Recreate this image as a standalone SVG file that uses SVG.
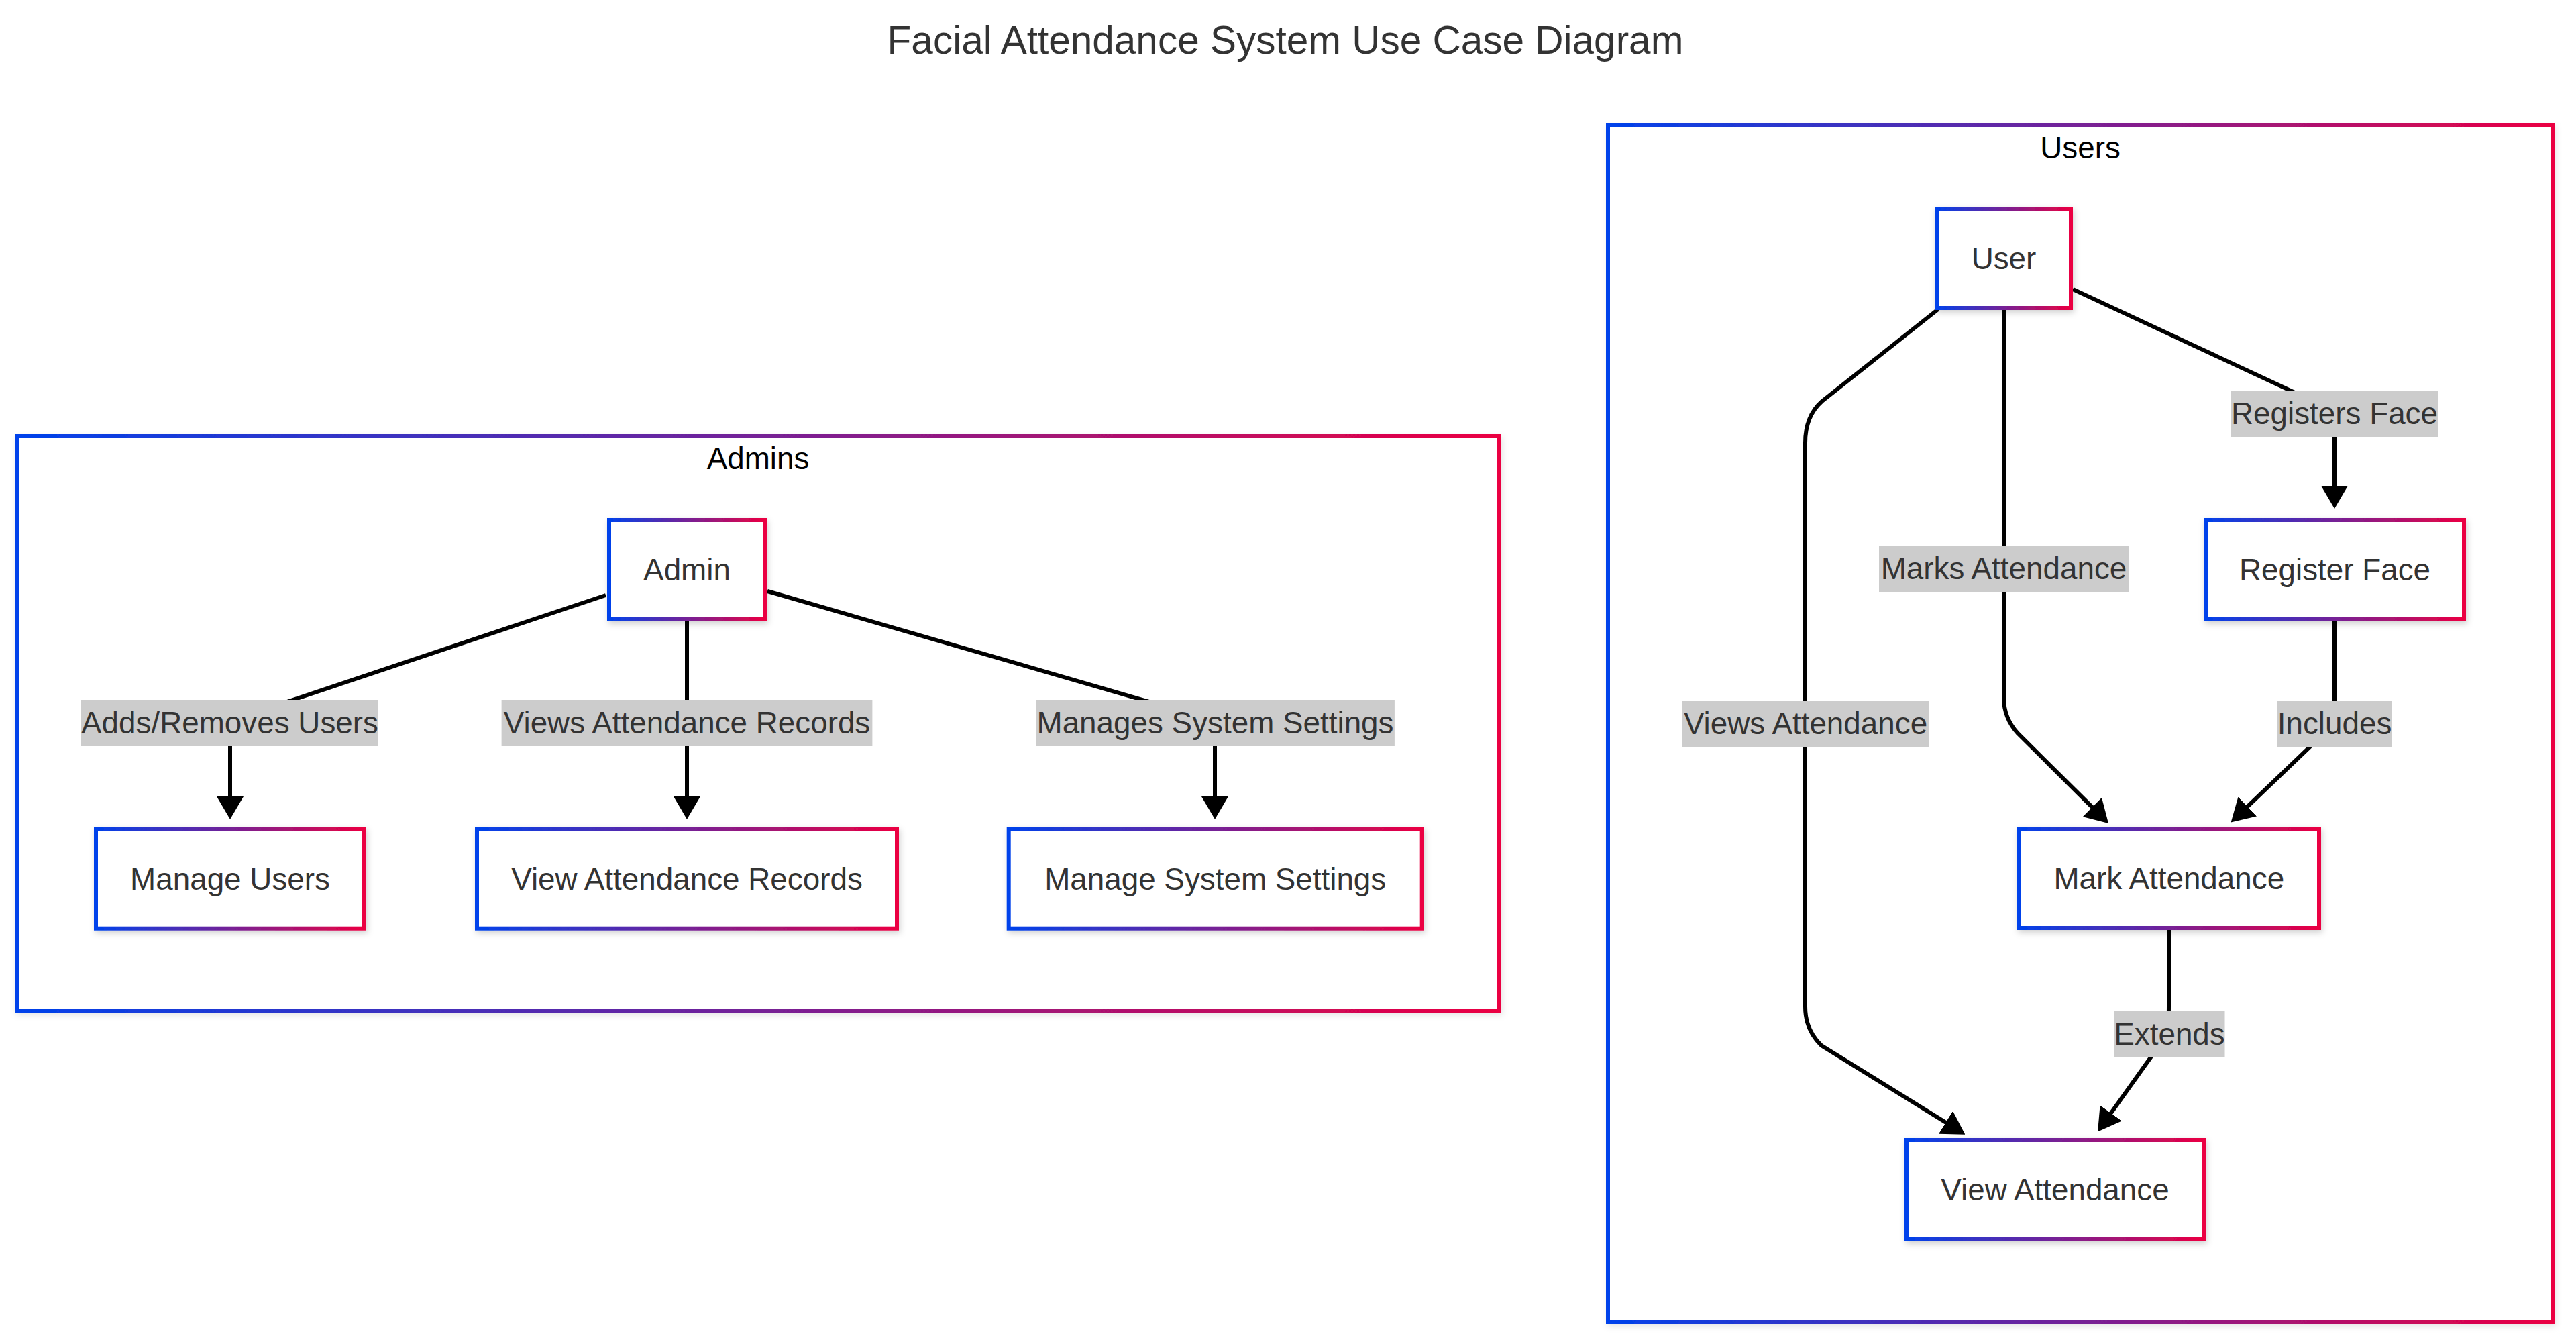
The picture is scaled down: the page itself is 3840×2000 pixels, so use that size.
<svg xmlns="http://www.w3.org/2000/svg" width="3840" height="2000" viewBox="0 0 3840 2000">
<defs>
<linearGradient id="grad" x1="0" y1="0" x2="1" y2="0">
<stop offset="0" stop-color="#0042eb"/>
<stop offset="1" stop-color="#eb0042"/>
</linearGradient>
<filter id="shadow" x="-20%" y="-20%" width="140%" height="140%">
<feDropShadow dx="2" dy="4" stdDeviation="5" flood-color="#000" flood-opacity="0.18"/>
</filter>
<filter id="cshadow" x="-5%" y="-5%" width="110%" height="110%">
<feDropShadow dx="2" dy="4" stdDeviation="5" flood-color="#000" flood-opacity="0.10"/>
</filter>
<marker id="arrow" markerUnits="userSpaceOnUse" markerWidth="34" markerHeight="40" viewBox="0 0 34 40" refX="10" refY="20" orient="auto">
<path d="M0,0 L34,20 L0,40 z" fill="#000"/>
</marker>
</defs>
<style>
.cluster rect { fill: #ffffff; stroke: url(#grad); stroke-width: 6; filter: url(#cshadow); }
.cluster text { font-family: "Liberation Sans", Arial, sans-serif; font-size: 45.8px; fill: #000; text-anchor: middle; }
.node rect { fill: #ffffff; stroke: url(#grad); stroke-width: 6; filter: url(#shadow); }
.node text { font-family: "Liberation Sans", Arial, sans-serif; font-size: 45.8px; fill: #333; text-anchor: middle; }
.edge { fill: none; stroke: #000; stroke-width: 6; marker-end: url(#arrow); }
.elabel rect { fill: #cccccc; }
.elabel text { font-family: "Liberation Sans", Arial, sans-serif; font-size: 45.8px; fill: #333; text-anchor: middle; }
.title { font-family: "Liberation Sans", Arial, sans-serif; font-size: 58.5px; fill: #333; text-anchor: middle; }
</style>
<rect x="0" y="0" width="3840" height="2000" fill="#ffffff"/>
<text class="title" x="1916" y="80">Facial Attendance System Use Case Diagram</text>

<g id="cluster-admins" class="cluster">
<rect x="25" y="650" width="2210" height="856"/>
<text x="1130" y="699">Admins</text>
</g>
<g id="cluster-users" class="cluster">
<rect x="2397" y="187" width="1408" height="1783"/>
<text x="3101" y="236">Users</text>
</g>

<g id="connectors">
<path class="edge" d="M903,887 L380,1062 Q343,1075 343,1100 L343,1197"/>
<path class="edge" d="M1024,921 L1024,1197"/>
<path class="edge" d="M1144,881 L1779,1065 Q1811,1077 1811,1100 L1811,1197"/>
<path class="edge" d="M3090,431 L3455,601 Q3480,612 3480,635 L3480,734"/>
<path class="edge" d="M2987,460 L2987,1040 Q2987,1070 3008,1093 L3126,1210"/>
<path class="edge" d="M3480,922 L3480,1078 L3343,1209"/>
<path class="edge" d="M2889,461 L2716,598 Q2691,620 2691,660 L2691,1500 Q2691,1535 2715,1558 L2909,1678"/>
<path class="edge" d="M3233,1385 L3233,1500 Q3233,1530 3228,1545 L3141,1667"/>
</g>

<g id="edge-labels">
<g class="elabel"><rect x="121" y="1043" width="443" height="69"/><text x="342.5" y="1093">Adds/Removes Users</text></g>
<g class="elabel"><rect x="747.6" y="1043" width="552.8" height="69"/><text x="1024" y="1093">Views Attendance Records</text></g>
<g class="elabel"><rect x="1544.2" y="1043" width="534.7" height="69"/><text x="1811.5" y="1093">Manages System Settings</text></g>
<g class="elabel"><rect x="3326" y="582" width="308" height="69"/><text x="3480" y="632">Registers Face</text></g>
<g class="elabel"><rect x="2801" y="813" width="372" height="69"/><text x="2987" y="863">Marks Attendance</text></g>
<g class="elabel"><rect x="2507" y="1044" width="369" height="69"/><text x="2691.5" y="1094">Views Attendance</text></g>
<g class="elabel"><rect x="3394.7" y="1044" width="170.6" height="69"/><text x="3480" y="1094">Includes</text></g>
<g class="elabel"><rect x="3151" y="1507" width="165.5" height="69"/><text x="3234" y="1557">Extends</text></g>
</g>

<g id="node-admin" class="node"><rect x="908" y="775" width="232" height="148"/><text x="1024" y="865">Admin</text></g>
<g id="node-manage-users" class="node"><rect x="143" y="1235.3" width="400" height="148.4"/><text x="343" y="1325.5">Manage Users</text></g>
<g id="node-view-attendance-records" class="node"><rect x="711" y="1235.3" width="626" height="148.4"/><text x="1024" y="1325.5">View Attendance Records</text></g>
<g id="node-manage-system-settings" class="node"><rect x="1503.7" y="1235.3" width="616" height="148.4"/><text x="1811.7" y="1325.5">Manage System Settings</text></g>
<g id="node-user" class="node"><rect x="2887" y="311" width="200" height="148"/><text x="2987" y="401">User</text></g>
<g id="node-register-face" class="node"><rect x="3288" y="775" width="385" height="148"/><text x="3480.5" y="865">Register Face</text></g>
<g id="node-mark-attendance" class="node"><rect x="3009.5" y="1235" width="447.5" height="148"/><text x="3233.3" y="1325">Mark Attendance</text></g>
<g id="node-view-attendance" class="node"><rect x="2842" y="1699" width="443" height="148"/><text x="3063.5" y="1789">View Attendance</text></g>
</svg>
